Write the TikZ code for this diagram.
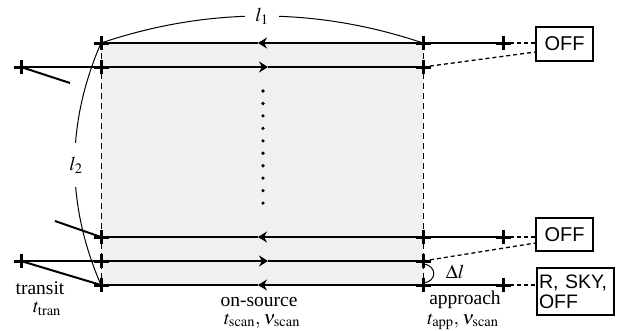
\documentclass[tikz,border=0pt]{standalone}
\usepackage{mathptmx}
\usepackage{fontspec}
\setmainfont{Liberation Serif}
\newfontfamily\boxfont{Liberation Sans}
\usetikzlibrary{arrows.meta}
\newcommand\plusat[1]{\draw[plusst] ([xshift=-7.5pt]#1) -- ([xshift=7.5pt]#1) ([yshift=-7pt]#1) -- ([yshift=7pt]#1);}
\begin{document}
\begin{tikzpicture}[x=1pt,y=-1pt,
  row/.style={line width=1.5pt},
  plusst/.style={line width=3pt},
  arr/.style={row,-{Stealth[length=9pt,width=11pt]}},
  vdash/.style={line width=0.8pt,dash pattern=on 6pt off 4pt},
  conn/.style={line width=1.3pt,dash pattern=on 4pt off 3pt},
  slant/.style={line width=2pt},
  bigarc/.style={line width=1pt},
  lab/.style={font=\fontsize{19.5}{20}\selectfont,inner sep=0pt},
  blab/.style={lab,anchor=base},
  statebox/.style={draw,line width=1.2pt,font=\boxfont\fontsize{20}{20}\selectfont,inner sep=2pt,align=left}]
\useasboundingbox (0,0) rectangle (618,330);
% key points
\coordinate (a1) at (101,43);  \coordinate (b1) at (423,43);  \coordinate (c1) at (503,43);
\coordinate (z2) at (21,67);   \coordinate (a2) at (101,67);  \coordinate (b2) at (423,67);
\coordinate (a3) at (101,237); \coordinate (b3) at (423,237); \coordinate (c3) at (503,237);
\coordinate (z4) at (21,261);  \coordinate (a4) at (101,261); \coordinate (b4) at (423,261);
\coordinate (a5) at (101,285); \coordinate (b5) at (423,285); \coordinate (c5) at (503,285);
\coordinate (m1) at (258,43); \coordinate (m2) at (268,67); \coordinate (m3) at (258,237);
\coordinate (m4) at (268,261); \coordinate (m5) at (258,285);
\coordinate (s1) at (70,83); \coordinate (s3) at (55,221);
% shaded area
\fill[black!6] (a1) rectangle (b5);
\draw[vdash] (a1) -- (a5);
\draw[vdash] (b1) -- (b5);
% rows
\draw[arr] (c1) -- (m1); \draw[row] (m1) -- (a1);
\draw[arr] (z2) -- (m2); \draw[row] (m2) -- (b2);
\draw[arr] (c3) -- (m3); \draw[row] (m3) -- (a3);
\draw[arr] (z4) -- (m4); \draw[row] (m4) -- (b4);
\draw[arr] (c5) -- (m5); \draw[row] (m5) -- (a5);
% transit slants
\draw[slant] (z2) -- (s1);
\draw[slant] (s3) -- (a3);
\draw[slant] (z4) -- (a5);
% dots
\foreach \i in {0,...,9} \fill (263,91+12.45*\i) circle (1.8pt);
% plus markers
\foreach \p in {a1,b1,c1,z2,a2,b2,a3,b3,c3,z4,a4,b4,a5,b5,c5} {\plusat{\p}}
% l1, l2 arcs
\draw[bigarc] (a1) .. controls (208,7) and (316,7) .. (b1);
\node[lab,fill=white,inner xsep=10pt,inner ysep=2pt] (l1) at (262,16) {$l_1$};
\draw[bigarc] (a1) .. controls (66,124) and (66,204) .. (a5);
\node[lab,fill=white,inner ysep=14pt,inner xsep=2pt] (l2) at (76,165) {$l_2$};
% delta l
\draw[line width=1pt] (424,264) .. controls (437,266) and (437,281) .. (424,283);
\node[lab] (dl) at (455,272) {$\Delta l$};
% boxes
\node[statebox,minimum width=57pt,minimum height=34pt] (off1) at (564.5,44) {OFF};
\node[statebox,minimum width=57pt,minimum height=33pt] (off2) at (564.5,234.5) {OFF};
\node[statebox,text width=73pt,minimum height=47pt,inner xsep=2pt,inner ysep=3pt,font=\boxfont\fontsize{19.5}{20}\selectfont] (rso) at (575.5,291.5) {R, SKY,\\OFF};
\draw[conn] (c1) -- (off1.west |- c1);
\draw[conn] (b2) -- ([yshift=-8pt]off1.west);
\draw[conn] (c3) -- (off2.west |- c3);
\draw[conn] (b4) -- ([yshift=-8.5pt]off2.west);
\draw[conn] (c5) -- (rso.west |- c5);
% labels
\node[blab] (tr) at (40,294) {transit};
\node[blab] (ttr) at (47,312.5) {$t_{\mathrm{tran}}$};
\node[blab] (os) at (259,306) {on-source};
\node[blab] (tos) at (262,324) {$t_{\mathrm{scan}},\mkern1mu\nu_{\mathrm{scan}}$};
\node[blab] (ap) at (465,304.5) {approach};
\node[blab] (tap) at (463,324) {$t_{\mathrm{app}},\mkern1mu\nu_{\mathrm{scan}}$};
\end{tikzpicture}
\end{document}
